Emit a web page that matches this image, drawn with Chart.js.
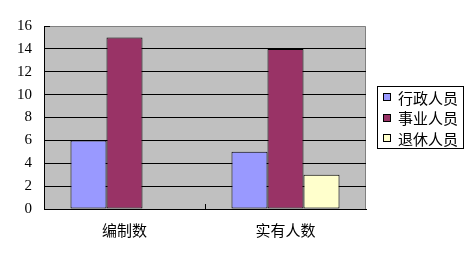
<!DOCTYPE html>
<html>
<head>
<meta charset="utf-8">
<script src="https://cdn.jsdelivr.net/npm/chart.js@4"></script>
<style>
  html, body { margin: 0; padding: 0; background: #fff; }
  #wrap { width: 475px; height: 258px; }
</style>
</head>
<body>
<div id="wrap"><canvas id="chart" width="475" height="258"></canvas></div>
<script>
const categories = ['编制数', '实有人数'];
const seriesNames = ['行政人员', '事业人员', '退休人员'];
const xingzheng = [6, 5];
const shiye = [15, 14];
const tuixiu = [null, 3];
const yTicks = [0, 2, 4, 6, 8, 10, 12, 14, 16];

const colors = ['#9999ff', '#993366', '#ffffcc'];
const cnFont = '"Noto Sans CJK SC", sans-serif';

// gray plot background with darker border on top and right
const plotBg = {
    id: 'plotBg',
    beforeDraw(chart) {
        const { ctx, chartArea: a } = chart;
        ctx.save();
        ctx.fillStyle = '#c0c0c0';
        ctx.fillRect(a.left, a.top, a.right - a.left, a.bottom - a.top);
        ctx.strokeStyle = '#808080';
        ctx.lineWidth = 1;
        ctx.beginPath();
        ctx.moveTo(a.left, a.top + 0.5);
        ctx.lineTo(a.right - 0.5, a.top + 0.5);
        ctx.lineTo(a.right - 0.5, a.bottom);
        ctx.stroke();
        ctx.restore();
    }
};

// small inner tick marks (category divider and top y tick)
const innerTicks = {
    id: 'innerTicks',
    afterDatasetsDraw(chart) {
        const { ctx, chartArea: a, scales } = chart;
        const x = scales.x;
        ctx.save();
        ctx.strokeStyle = '#000';
        ctx.lineWidth = 1;
        ctx.beginPath();
        for (let i = 1; i < categories.length; i++) {
            const px = Math.round((x.getPixelForValue(i - 1) + x.getPixelForValue(i)) / 2) + 0.5;
            ctx.moveTo(px, a.bottom);
            ctx.lineTo(px, a.bottom - 5);
        }
        const ty = Math.round(scales.y.getPixelForValue(16)) + 0.5;
        ctx.moveTo(a.left, ty);
        ctx.lineTo(a.left + 6, ty);
        ctx.stroke();
        ctx.restore();
    }
};

// boxed legend on the right
const boxLegend = {
    id: 'boxLegend',
    afterDraw(chart) {
        const { ctx } = chart;
        const left = 377, top = 86, w = 86, h = 62;
        ctx.save();
        ctx.strokeStyle = '#000';
        ctx.lineWidth = 1;
        ctx.strokeRect(left + 0.5, top + 0.5, w, h);
        ctx.font = '15px ' + cnFont;
        ctx.textBaseline = 'middle';
        ctx.fillStyle = '#000';
        chart.data.datasets.forEach((ds, i) => {
            const cy = top + 11 + i * 20.7;
            ctx.fillStyle = ds.backgroundColor;
            ctx.fillRect(383, Math.round(cy - 4), 8, 8);
            ctx.strokeRect(383.5, Math.round(cy - 4) + 0.5, 7, 7);
            ctx.fillStyle = '#000';
            ctx.fillText(ds.label, 398, cy + 1);
        });
        ctx.restore();
    }
};

new Chart(document.getElementById('chart'), {
    type: 'bar',
    data: {
        labels: categories,
        datasets: [
            { label: seriesNames[0], data: xingzheng, backgroundColor: colors[0] },
            { label: seriesNames[1], data: shiye, backgroundColor: colors[1] },
            { label: seriesNames[2], data: tuixiu, backgroundColor: colors[2] }
        ].map(d => Object.assign(d, {
            borderColor: '#000',
            borderWidth: 1,
            borderSkipped: false,
            barPercentage: 1,
            categoryPercentage: 0.671
        }))
    },
    options: {
        responsive: false,
        animation: false,
        layout: { padding: { top: 26, right: 109, bottom: 0, left: 0 } },
        plugins: {
            legend: { display: false },
            tooltip: { enabled: false }
        },
        scales: {
            x: {
                grid: { display: false, drawTicks: false },
                border: { display: true, color: '#000' },
                ticks: {
                    padding: 12,
                    color: '#000',
                    font: { family: cnFont, size: 15 }
                },
                afterFit(scale) { scale.height = 49; }
            },
            y: {
                min: 0,
                max: 16,
                afterBuildTicks(scale) { scale.ticks = yTicks.map(v => ({ value: v })); },
                grid: {
                    drawTicks: false,
                    color: ctx => (ctx.tick && ctx.tick.value === 16) ? 'rgba(0,0,0,0)' : '#000'
                },
                border: { display: true, color: '#000' },
                ticks: {
                    padding: 12,
                    color: '#000',
                    font: { family: '"Liberation Serif", serif', size: 15 }
                },
                afterFit(scale) { scale.width = 44; }
            }
        }
    },
    plugins: [plotBg, innerTicks, boxLegend]
});
</script>
</body>
</html>
